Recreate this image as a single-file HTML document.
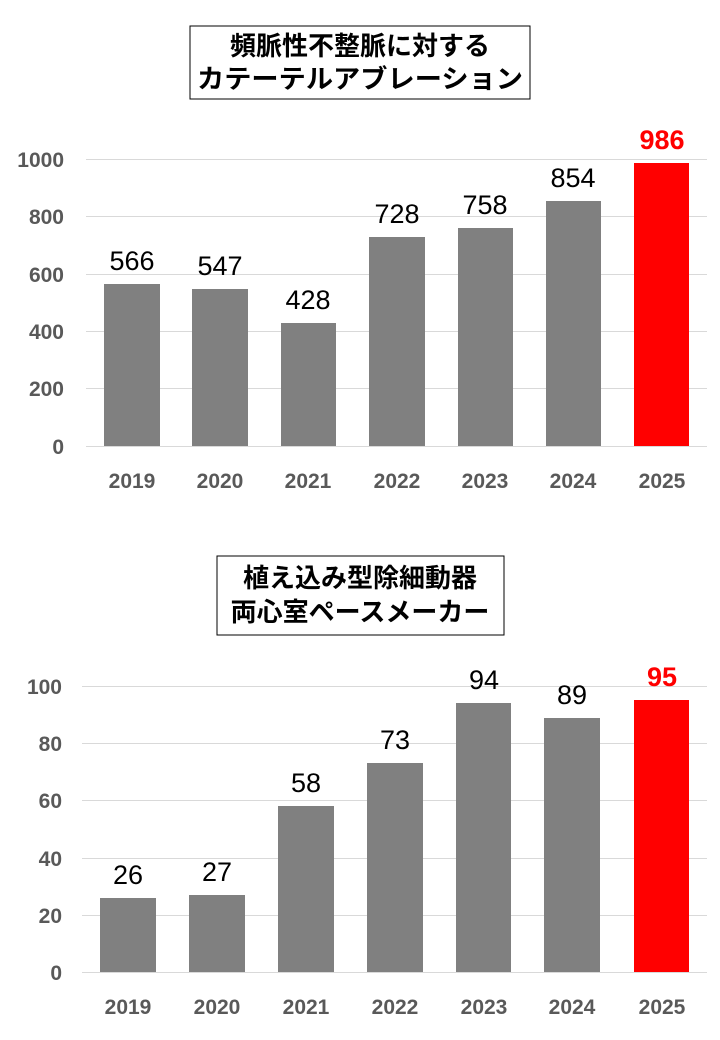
<!DOCTYPE html>
<html><head><meta charset="utf-8"><style>body{margin:0;background:#fff}svg{display:block}</style></head><body>
<svg width="720" height="1040" xmlns="http://www.w3.org/2000/svg" font-family="Liberation Sans, Noto Sans CJK JP, sans-serif">
<rect x="190" y="26" width="340" height="73" fill="#fff" stroke="#000" stroke-width="1"/>
<text x="360" y="55" text-anchor="middle" font-size="26" font-weight="bold" font-family="Noto Sans CJK JP, sans-serif">頻脈性不整脈に対する</text>
<text x="360" y="88" text-anchor="middle" font-size="26" font-weight="bold" font-family="Noto Sans CJK JP, sans-serif" textLength="326" lengthAdjust="spacingAndGlyphs">カテーテルアブレーション</text>
<g stroke="#d9d9d9" stroke-width="1">
<line x1="86" x2="707" y1="159.5" y2="159.5"/><line x1="86" x2="707" y1="216.5" y2="216.5"/><line x1="86" x2="707" y1="274.5" y2="274.5"/><line x1="86" x2="707" y1="331.5" y2="331.5"/><line x1="86" x2="707" y1="388.5" y2="388.5"/><line x1="86" x2="707" y1="446.5" y2="446.5"/>
</g>
<g font-size="21" font-weight="bold" fill="#595959" text-anchor="end">
<text x="64" y="167">1000</text><text x="64" y="224">800</text><text x="64" y="282">600</text><text x="64" y="339">400</text><text x="64" y="396">200</text><text x="64" y="454">0</text>
</g>
<g fill="#808080">
<rect x="104" y="284" width="56" height="162"/><rect x="192" y="289" width="56" height="157"/><rect x="281" y="323" width="55" height="123"/><rect x="369" y="237" width="56" height="209"/><rect x="458" y="228" width="55" height="218"/><rect x="546" y="201" width="55" height="245"/>
</g>
<rect x="634" y="163" width="55" height="283" fill="#ff0000"/>
<g font-size="27" text-anchor="middle" fill="#000">
<text x="132" y="270">566</text><text x="220" y="275">547</text><text x="308" y="309">428</text><text x="397" y="223">728</text><text x="485" y="214">758</text><text x="573" y="187">854</text>
</g>
<text x="662" y="149" font-size="27" font-weight="bold" fill="#ff0000" text-anchor="middle">986</text>
<g font-size="21" font-weight="bold" fill="#595959" text-anchor="middle">
<text x="132" y="488">2019</text><text x="220" y="488">2020</text><text x="308" y="488">2021</text><text x="397" y="488">2022</text><text x="485" y="488">2023</text><text x="573" y="488">2024</text><text x="662" y="488">2025</text>
</g>

<rect x="217" y="556" width="287" height="79" fill="#fff" stroke="#000" stroke-width="1"/>
<text x="360" y="587" text-anchor="middle" font-size="26" font-weight="bold" font-family="Noto Sans CJK JP, sans-serif">植え込み型除細動器</text>
<text x="360" y="621" text-anchor="middle" font-size="26" font-weight="bold" font-family="Noto Sans CJK JP, sans-serif">両心室ペースメーカー</text>
<g stroke="#d9d9d9" stroke-width="1">
<line x1="82" x2="707" y1="686.5" y2="686.5"/><line x1="82" x2="707" y1="743.5" y2="743.5"/><line x1="82" x2="707" y1="800.5" y2="800.5"/><line x1="82" x2="707" y1="858.5" y2="858.5"/><line x1="82" x2="707" y1="915.5" y2="915.5"/><line x1="82" x2="707" y1="972.5" y2="972.5"/>
</g>
<g font-size="21" font-weight="bold" fill="#595959" text-anchor="end">
<text x="62" y="694">100</text><text x="62" y="751">80</text><text x="62" y="808">60</text><text x="62" y="866">40</text><text x="62" y="923">20</text><text x="62" y="980">0</text>
</g>
<g fill="#808080">
<rect x="100" y="898" width="56" height="74"/><rect x="189" y="895" width="56" height="77"/><rect x="278" y="806" width="56" height="166"/><rect x="367" y="763" width="56" height="209"/><rect x="456" y="703" width="55" height="269"/><rect x="544" y="718" width="56" height="254"/>
</g>
<rect x="634" y="700" width="55" height="272" fill="#ff0000"/>
<g font-size="27" text-anchor="middle" fill="#000">
<text x="128" y="884">26</text><text x="217" y="881">27</text><text x="306" y="792">58</text><text x="395" y="749">73</text><text x="484" y="689">94</text><text x="572" y="704">89</text>
</g>
<text x="662" y="686" font-size="27" font-weight="bold" fill="#ff0000" text-anchor="middle">95</text>
<g font-size="21" font-weight="bold" fill="#595959" text-anchor="middle">
<text x="128" y="1014">2019</text><text x="217" y="1014">2020</text><text x="306" y="1014">2021</text><text x="395" y="1014">2022</text><text x="484" y="1014">2023</text><text x="572" y="1014">2024</text><text x="662" y="1014">2025</text>
</g>
</svg>
</body></html>
